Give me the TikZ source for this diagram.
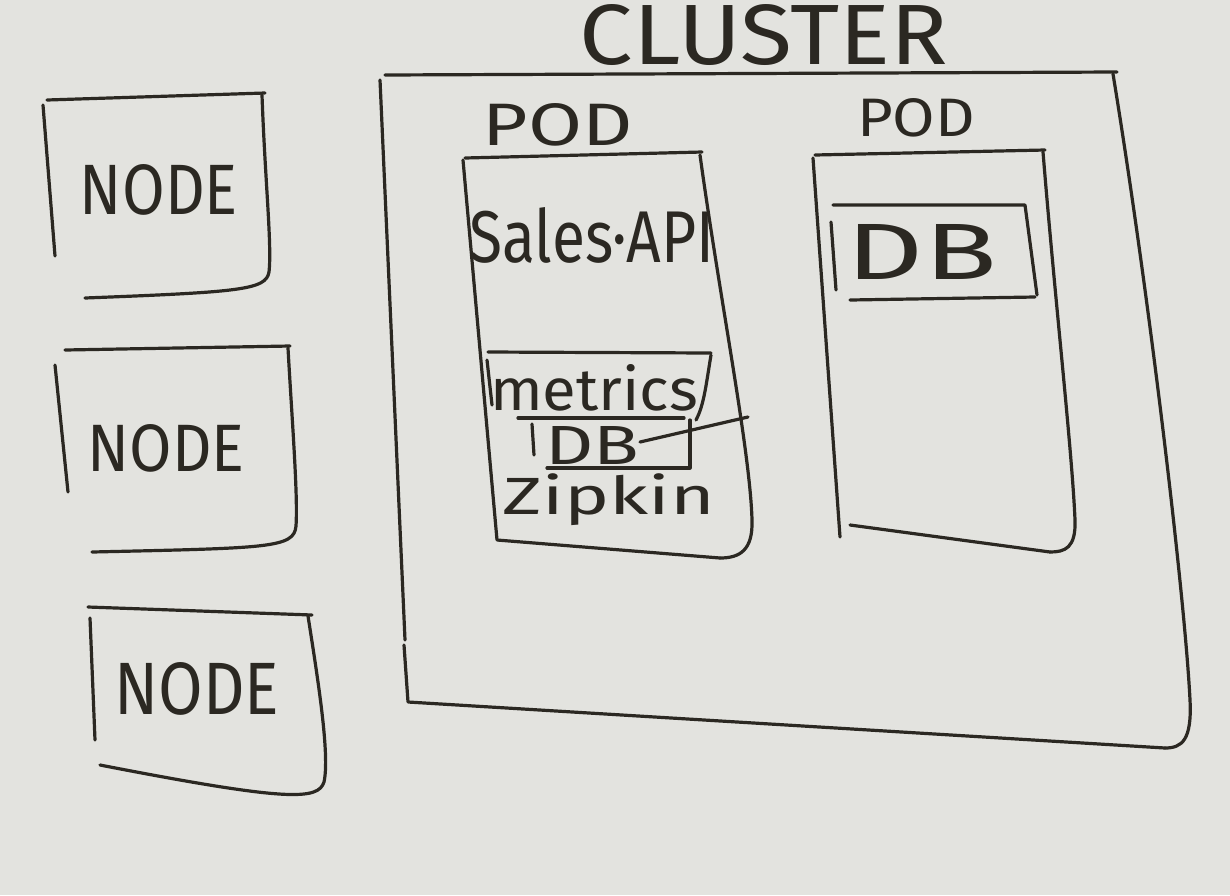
\documentclass[tikz,border=0pt]{standalone}
\usepackage{fontspec}
\usepackage{graphicx}
\setmainfont{Fira Sans}
\definecolor{board}{HTML}{E3E3DF}
\definecolor{ink}{HTML}{2B2822}
\tikzset{
  ink/.style={draw=ink, line width=1.6pt, line cap=round, line join=round},
  hand/.style={text=ink, inner sep=0pt, anchor=center}
}
\newcommand{\hw}[3]{\resizebox{#1pt}{#2pt}{#3}}
\newcommand{\hwt}[3]{\resizebox*{#1pt}{#2pt}{#3}}
\begin{document}
\begin{tikzpicture}[x=0.5pt,y=-0.5pt]
\fill[board] (0,0) rectangle (1230,895);
\useasboundingbox (0,0) rectangle (1230,895);

% ---------- NODE boxes ----------
\draw[ink] (47,100) -- (265,93);
\draw[ink] (43,105) -- (55,256);
\draw[ink] (262,95) .. controls (265,180) and (272,245) .. (269,272) .. controls (266,290) and (240,292) .. (85,298);
\node[hand] (n1) at (159,190) {\hw{79}{25}{NODE}};

\draw[ink] (65,350) -- (290,346);
\draw[ink] (55,365) -- (68,492);
\draw[ink] (288,348) .. controls (292,420) and (298,495) .. (296,526) .. controls (294,548) and (270,548) .. (92,552);
\node[hand] (n2) at (166,448) {\hw{78.5}{23.5}{NODE}};

\draw[ink] (88,607) -- (312,615);
\draw[ink] (90,618) -- (95,740);
\draw[ink] (308,616) .. controls (318,680) and (330,755) .. (324,782) .. controls (318,800) and (290,802) .. (100,765);
\node[hand] (n3) at (197,689) {\hw{82.5}{26}{NODE}};

% ---------- CLUSTER ----------
\node[hand] (cl) at (764,35) {\hw{184}{30}{CLUSTER}};
\draw[ink] (385,75) -- (1117,72);
\draw[ink] (380,80) -- (405,640);
\draw[ink] (404,645) -- (408,702) -- (1165,748);
\draw[ink] (1113,74) .. controls (1150,300) and (1185,600) .. (1190,700) .. controls (1192,740) and (1182,748) .. (1165,748);

% ---------- POD 1 ----------
\node[hand] (p1) at (558,125) {\hw{75}{21}{POD}};
\draw[ink] (465,158) -- (702,152);
\draw[ink] (463,160) -- (497,540) -- (720,558);
\draw[ink] (700,155) .. controls (720,300) and (750,450) .. (752,520) .. controls (753,550) and (740,558) .. (720,558);
\node[hand] (api) at (592,235) {\hw{122.5}{27.5}{Sales·API}};

% metrics DB box
\draw[ink] (488,352) -- (711,353);
\draw[ink] (487,360) -- (492,405);
\draw[ink] (711,355) .. controls (706,385) and (704,405) .. (696,420);
\node[hand] (met) at (594,388) {\hw{104}{23}{metrics}};
\draw[ink] (518,418) -- (684,418);
\draw[ink] (532,424) -- (534,455);
\node[hand] (mdb) at (592,445) {\hw{47}{19}{DB}};
\draw[ink] (690,420) -- (690,468) -- (547,468);
\draw[ink] (640,442) -- (748,417);
\node[hand] (zip) at (609,500) {\hwt{106}{26}{Zipkin}};

% ---------- POD 2 ----------
\node[hand] (p2) at (916,118) {\hw{59}{19}{POD}};
\draw[ink] (815,155) -- (1045,150);
\draw[ink] (813,158) -- (840,537);
\draw[ink] (1043,152) .. controls (1055,300) and (1072,450) .. (1075,520) .. controls (1076,548) and (1065,552) .. (1050,552);
\draw[ink] (850,525) -- (1050,552);
\draw[ink] (833,205) -- (1025,205) -- (1037,295);
\draw[ink] (831,222) -- (836,290);
\draw[ink] (850,300) -- (1035,297);
\node[hand] (db) at (922,252) {\hw{75}{27.5}{DB}};
\end{tikzpicture}
\end{document}
